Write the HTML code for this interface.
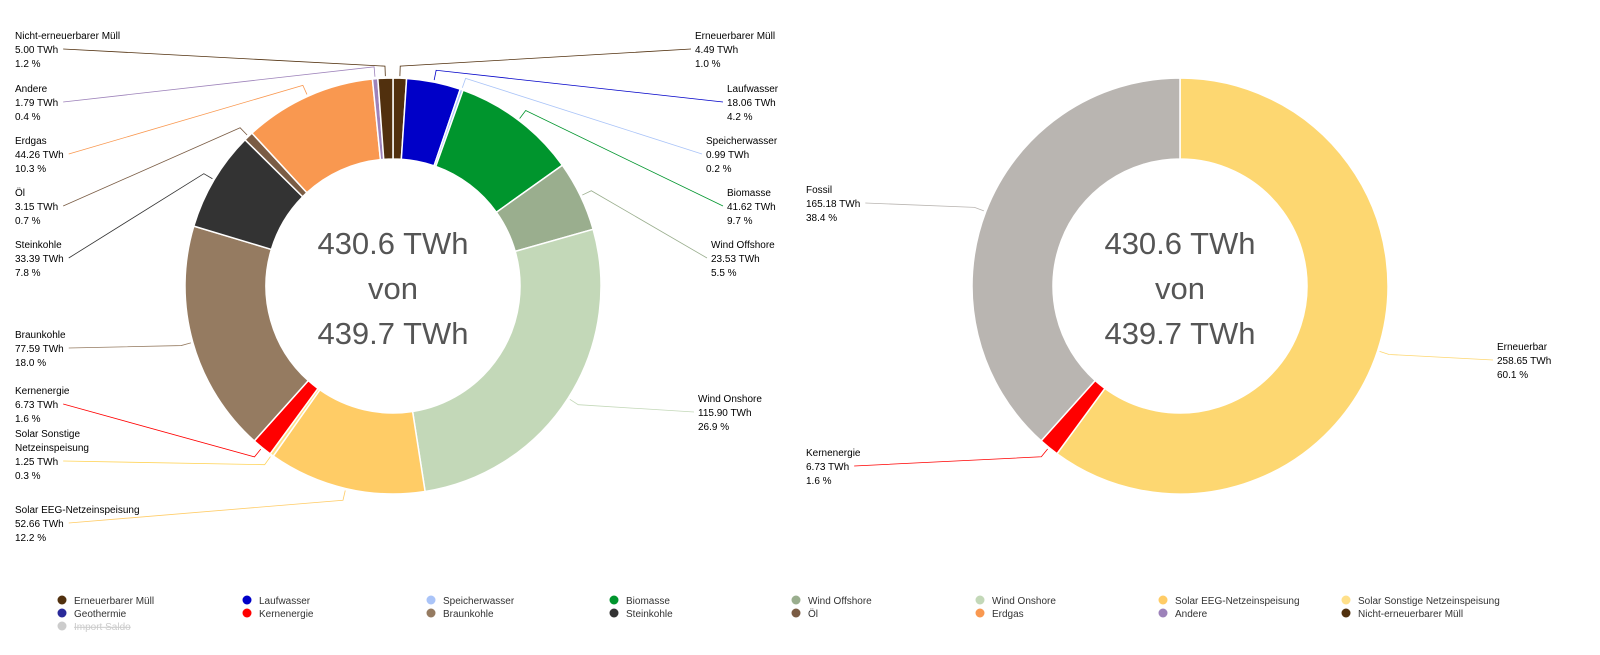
<!DOCTYPE html>
<html><head><meta charset="utf-8"><style>
body{margin:0;background:#fff;width:1600px;height:655px;overflow:hidden;font-family:"Liberation Sans",sans-serif}
svg{display:block}
</style></head><body>
<svg id="c" width="1600" height="655"></svg>
<script>
const names=["Erneuerbarer Müll","Laufwasser","Speicherwasser","Biomasse","Wind Offshore","Wind Onshore","Solar EEG-Netzeinspeisung","Solar Sonstige Netzeinspeisung","Kernenergie","Braunkohle","Steinkohle","Öl","Erdgas","Andere","Nicht-erneuerbarer Müll"];
const values=[4.49,18.06,0.99,41.62,23.53,115.90,52.66,1.25,6.73,77.59,33.39,3.15,44.26,1.79,5.00];
const pcts=["1.0","4.2","0.2","9.7","5.5","26.9","12.2","0.3","1.6","18.0","7.8","0.7","10.3","0.4","1.2"];
const colors=["#51300e","#0000c8","#aac4f8","#00952d","#9aae8e","#c3d8b8","#ffcc66","#ffe08a","#ff0000","#957b61","#333333","#7a5c44","#f99850","#9d82ba","#51300e"];
const labelPos=[[695,35,"R"],[727,88,"R"],[706,140,"R"],[727,192,"R"],[711,244,"R"],[698,398,"R"],[15,509,"L"],[15,433,"L"],[15,390,"L"],[15,334,"L"],[15,244,"L"],[15,192,"L"],[15,140,"L"],[15,88,"L"],[15,35,"L"]];
const names2=["Erneuerbar","Kernenergie","Fossil"];
const values2=[258.65,6.73,165.18];
const pcts2=["60.1","1.6","38.4"];
const colors2=["#fdd771","#ff0000","#b9b5b1"];
const labelPos2=[[1497,346,"R"],[806,452,"L"],[806,189,"L"]];
const legendNames=["Erneuerbarer Müll","Laufwasser","Speicherwasser","Biomasse","Wind Offshore","Wind Onshore","Solar EEG-Netzeinspeisung","Solar Sonstige Netzeinspeisung","Geothermie","Kernenergie","Braunkohle","Steinkohle","Öl","Erdgas","Andere","Nicht-erneuerbarer Müll","Import Saldo"];
const legendColors=["#51300e","#0000c8","#aac4f8","#00952d","#9aae8e","#c3d8b8","#ffcc66","#ffe08a","#2a2a9a","#ff0000","#957b61","#333333","#7a5c44","#f99850","#9d82ba","#51300e","#cccccc"];
const centerLines=["430.6 TWh","von","439.7 TWh"];

const NS="http://www.w3.org/2000/svg";
const svg=document.getElementById('c');
function mk(t,a,p){const e=document.createElementNS(NS,t);for(const k in a)e.setAttribute(k,a[k]);(p||svg).appendChild(e);return e;}
function pt(cx,cy,r,a){return [cx+r*Math.sin(a),cy-r*Math.cos(a)];}
function donut(cx,cy,R,r,vals,cols,nms,pcs,lp,prefix){
  const g=mk('g',{});
  
  
  const tot=vals.reduce((a,b)=>a+b,0);
  let a0=0;
  vals.forEach((v,i)=>{
    const a1=a0+v/tot*2*Math.PI;
    const big=(a1-a0)>Math.PI?1:0;
    const p1=pt(cx,cy,R,a0),p2=pt(cx,cy,R,a1),p3=pt(cx,cy,r,a1),p4=pt(cx,cy,r,a0);
    const s=mk('path',{d:`M${p1}A${R},${R} 0 ${big} 1 ${p2}L${p3}A${r},${r} 0 ${big} 0 ${p4}Z`,fill:cols[i],stroke:'#fff','stroke-width':1.5},g);
    
    
    // label
    const [lx,ly,side]=lp[i];
    const lines=nms[i]==="Solar Sonstige Netzeinspeisung"?["Solar Sonstige","Netzeinspeisung"]:[nms[i]];
    const all=lines.concat([vals[i].toFixed(2)+" TWh",pcs[i]+" %"]);
    const tg=mk('g',{},g);
    
    
    let anchorY=ly+14*(lines.length), anchorW=0;
    all.forEach((tx,k)=>{
      const t=mk('text',{x:lx,y:ly+4+14*k,'font-size':10,fill:'#000'},tg);
      t.textContent=tx;
      if(k===lines.length) anchorW=t.getComputedTextLength();
    });
    const am=(a0+a1)/2;
    const q1=pt(cx,cy,R+2,am),q2=pt(cx,cy,R+12,am);
    const ax=side==="R"?lx-4:lx+anchorW+5;
    const ln=mk('polyline',{points:`${q1} ${q2} ${ax},${anchorY}`,fill:'none',stroke:cols[i]==='#ffe08a'?'#ffd45a':cols[i],'stroke-width':0.8},g);
    
    
    a0=a1;
  });
  centerLines.forEach((tx,k)=>{
    const t=mk('text',{x:cx,y:cy-32+45*k,'text-anchor':'middle','font-size':31,fill:'#555'},g);
    
    
    t.textContent=tx;
  });
}
donut(393,286,208,127,values,colors,names,pcts,labelPos,'generation-by-source');
donut(1180,286,208,127,values2,colors2,names2,pcts2,labelPos2,'renewable-vs-fossil');
const lg=mk('g',{});


const colX=[62,247,431,614,796,980,1163,1346];
legendNames.forEach((n,i)=>{
  const x=colX[i%8],y=600+13*Math.floor(i/8);
  const it=mk('g',{},lg);
  
  
  mk('circle',{cx:x,cy:y,r:4.5,fill:legendColors[i]},it);
  const t=mk('text',{x:x+12,y:y+4,'font-size':10,fill:i===16?'#ccc':'#333'},it);
  if(i===16)t.setAttribute('text-decoration','line-through');
  t.textContent=n;
});
</script>
</body></html>
